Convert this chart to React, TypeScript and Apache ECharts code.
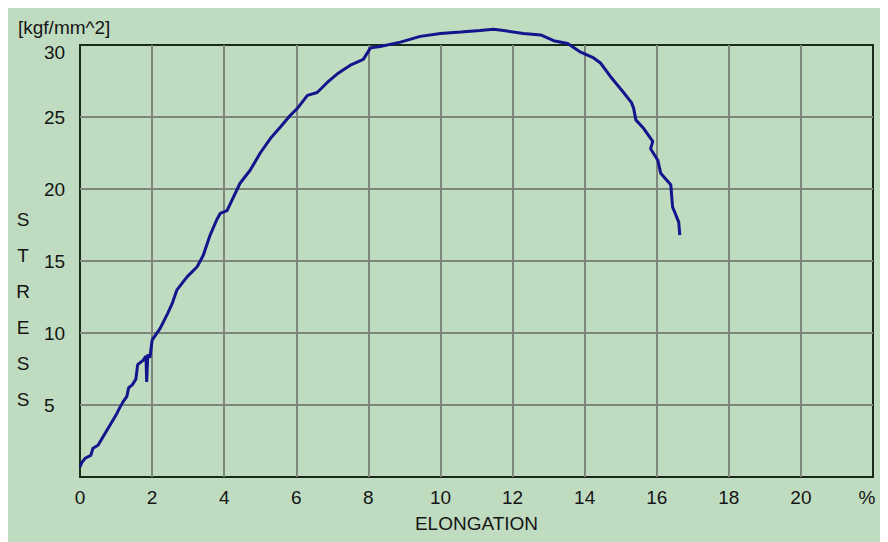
import React, { useEffect, useRef } from "react";
import * as echarts from "echarts";

const elongation = [
  0.0, 0.05, 0.14, 0.3, 0.36, 0.5, 0.64, 0.83, 1.0, 1.1, 1.19, 1.3, 1.35, 1.45, 1.55, 1.6,
  1.75, 1.83, 1.85, 1.88, 1.94, 2.0, 2.22, 2.44, 2.55, 2.69, 2.97, 3.25, 3.42, 3.61, 3.8,
  3.89, 4.08, 4.25, 4.44, 4.72, 5.0, 5.28, 5.56, 5.83, 6.03, 6.31, 6.58, 6.86, 7.14, 7.5,
  7.86, 8.06, 8.33, 8.89, 9.44, 10.0, 10.56, 11.1, 11.47, 11.75, 12.3, 12.78, 13.14, 13.53,
  13.89, 14.25, 14.44, 14.72, 15.08, 15.3, 15.36, 15.42, 15.64, 15.89, 15.83, 16.03, 16.11,
  16.39, 16.44, 16.61, 16.64,
];
const stress = [
  0.7, 1.0, 1.3, 1.5, 2.0, 2.2, 2.8, 3.6, 4.3, 4.8, 5.2, 5.6, 6.2, 6.4, 6.8, 7.8,
  8.1, 8.4, 6.6, 8.5, 8.3, 9.5, 10.3, 11.4, 12.0, 13.0, 13.9, 14.6, 15.4, 16.8, 17.9,
  18.3, 18.5, 19.4, 20.4, 21.3, 22.5, 23.5, 24.3, 25.1, 25.6, 26.5, 26.7, 27.4, 28.0, 28.6,
  29.0, 29.8, 29.9, 30.2, 30.6, 30.8, 30.9, 31.0, 31.1, 31.0, 30.8, 30.7, 30.3, 30.1,
  29.5, 29.1, 28.75, 27.8, 26.7, 26.0, 25.6, 24.8, 24.2, 23.3, 22.8, 22.0, 21.1,
  20.3, 18.75, 17.7, 16.8,
];
const xTicks = [0, 2, 4, 6, 8, 10, 12, 14, 16, 18, 20, 22];
const yTicks = [0, 5, 10, 15, 20, 25, 30];
const yUnit = "[kgf/mm^2]";
const yName = ["S", "T", "R", "E", "S", "S"];
const xName = "ELONGATION";

const FONT = "Liberation Sans, Arial, sans-serif";
const TEXT = "#151515";

export default function App() {
  const ref = useRef<HTMLDivElement>(null);
  useEffect(() => {
    document.documentElement.style.overflow = "hidden";
    const chart = echarts.init(ref.current!, null, { renderer: "svg" });
    const data = elongation.map((x, i) => [x, stress[i]]);
    chart.setOption({
      animation: false,
      backgroundColor: "#c0dcc0",
      textStyle: { fontFamily: FONT },
      grid: {
        left: 72,
        top: 37,
        right: 15,
        bottom: 65,
        show: true,
        borderColor: "#1c2a1c",
        borderWidth: 2,
        backgroundColor: "transparent",
      },
      xAxis: {
        type: "value",
        min: xTicks[0],
        max: xTicks[xTicks.length - 1],
        interval: 2,
        name: xName,
        nameLocation: "middle",
        nameGap: 37,
        nameTextStyle: { fontSize: 19, color: TEXT, fontFamily: FONT },
        axisLine: { show: false },
        axisTick: { show: false },
        axisLabel: {
          fontSize: 19,
          color: TEXT,
          margin: 11,
          fontFamily: FONT,
          showMaxLabel: true,
          formatter: (v: number) => (v === 22 ? "{p|%}" : String(v)),
          rich: { p: { fontSize: 19, color: TEXT, fontFamily: FONT, padding: [0, 12, 0, 0] } },
        },
        splitLine: {
          show: true,
          showMinLine: false,
          showMaxLine: false,
          lineStyle: { color: "#7d857d", width: 2 },
        },
      },
      yAxis: {
        type: "value",
        min: yTicks[0],
        max: yTicks[yTicks.length - 1],
        interval: 5,
        axisLine: { show: false },
        axisTick: { show: false },
        axisLabel: {
          fontSize: 19,
          color: TEXT,
          align: "left",
          margin: 36,
          fontFamily: FONT,
          formatter: (v: number) => (v === 0 ? "" : v === 30 ? "{t|30}" : String(v)),
          rich: { t: { fontSize: 19, color: TEXT, fontFamily: FONT, padding: [14, 0, 0, 0] } },
        },
        splitLine: {
          show: true,
          showMinLine: false,
          showMaxLine: false,
          lineStyle: { color: "#7d857d", width: 2 },
        },
      },
      graphic: [
        {
          type: "text",
          left: 10,
          top: 10,
          style: { text: yUnit, fontSize: 19, fill: TEXT, fontFamily: FONT },
        },
        {
          type: "text",
          x: 15,
          y: 193,
          style: {
            text: yName.join("\n"),
            fontSize: 19,
            lineHeight: 36,
            fill: TEXT,
            fontFamily: FONT,
            align: "center",
            verticalAlign: "top",
          },
        },
      ],
      series: [
        {
          type: "line",
          data,
          showSymbol: false,
          clip: false,
          z: 10,
          lineStyle: { color: "#14148c", width: 3 },
        },
      ],
    });
    return () => chart.dispose();
  }, []);
  return <div ref={ref} style={{ width: 880, height: 534 }} />;
}
